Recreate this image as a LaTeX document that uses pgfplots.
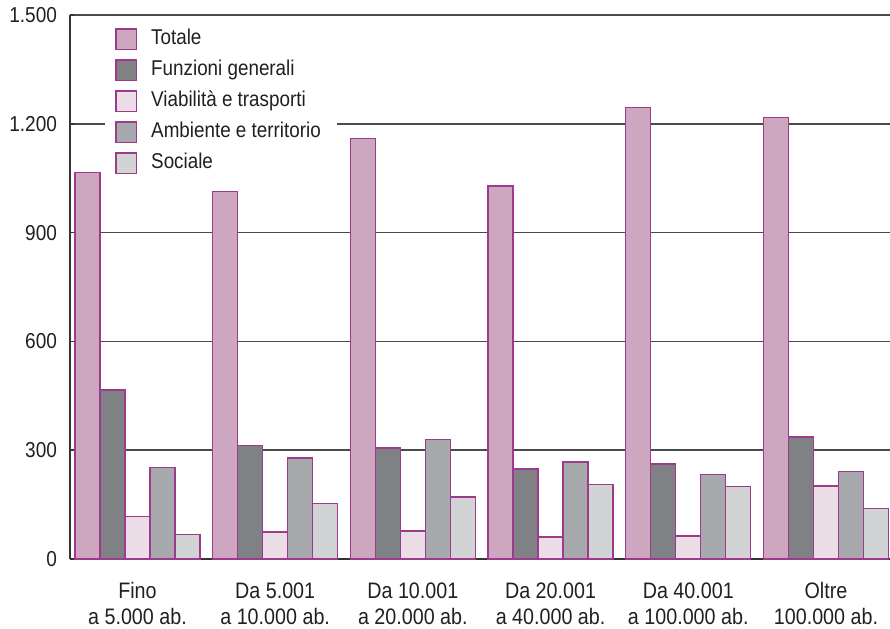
\documentclass[border=0pt]{standalone}
\usepackage{pgfplots}
\pgfplotsset{compat=1.18}
\usepackage{fontspec}
\setmainfont{Liberation Sans}[FakeStretch=0.88]
\definecolor{cTot}{HTML}{CDA6C0}
\definecolor{cFun}{HTML}{808184}
\definecolor{cVia}{HTML}{EBDDE6}
\definecolor{cAmb}{HTML}{A7A9AC}
\definecolor{cSoc}{HTML}{D1D3D4}
\definecolor{cEdge}{HTML}{9D3A8B}
\definecolor{cAxis}{HTML}{333333}
\definecolor{cGrid}{HTML}{4A4A4A}
\definecolor{cText}{HTML}{231F20}
\begin{document}
\begin{tikzpicture}
\useasboundingbox (-35pt,-34.5pt) rectangle (410pt,279.5pt);
\begin{axis}[
  at={(0,0)}, anchor=south west,
  scale only axis, width=410pt, height=272pt,
  ybar=0pt, bar width=12.5pt,
  xmin=-0.49, xmax=5.465, ymin=0, ymax=1500,
  axis x line*=bottom, axis y line*=left,
  axis line style={line width=1.4pt, color=cAxis},
  xtick={0,1,2,3,4,5},
  xticklabels={{Fino\\a 5.000 ab.},{Da 5.001\\a 10.000 ab.},{Da 10.001\\a 20.000 ab.},{Da 20.001\\a 40.000 ab.},{Da 40.001\\a 100.000 ab.},{Oltre\\100.000 ab.}},
  xtick style={draw=none},
  xticklabel style={align=center, font=\fontsize{11.2}{13}\selectfont, text=cText, yshift=-8.3pt},
  ytick={0,300,600,900,1200,1500},
  yticklabels={0,300,600,900,{1.200},{1.500}},
  yticklabel style={font=\fontsize{10.8}{13}\selectfont, text=cText, xshift=-3pt},
  tick align=inside, major tick length=2pt,
  ytick style={color=cAxis, line width=0.8pt},
  ymajorgrids, grid style={color=cGrid, line width=0.8pt},
  legend image code/.code={\draw[#1] (0pt,-5.2pt) rectangle (10.2pt,5.2pt);},
  legend cell align=left,
  legend style={at={(axis description cs:0.0427,0.9845)}, anchor=north west,
    draw=none, fill=white, inner xsep=5pt, inner ysep=0pt, row sep=0pt,
    font=\fontsize{10.7}{13}\selectfont, text=cText,
    nodes={text height=8pt, text depth=2.5pt, inner ysep=2.5pt, inner xsep=3pt},
    /tikz/every odd column/.append style={column sep=4pt}},
]
\addplot[fill=cTot, draw=cEdge, line width=0.7pt] coordinates {(0,1066) (1,1014) (2,1160) (3,1029) (4,1245) (5,1217)};
\addplot[fill=cFun, draw=cEdge, line width=0.7pt] coordinates {(0,466) (1,313) (2,306) (3,248) (4,262) (5,336)};
\addplot[fill=cVia, draw=cEdge, line width=0.7pt] coordinates {(0,118) (1,75) (2,77) (3,61) (4,63) (5,201)};
\addplot[fill=cAmb, draw=cEdge, line width=0.7pt] coordinates {(0,252) (1,279) (2,330) (3,267) (4,233) (5,241)};
\addplot[fill=cSoc, draw=cEdge, line width=0.7pt] coordinates {(0,67) (1,153) (2,171) (3,205) (4,200) (5,139)};
\legend{Totale, Funzioni generali, Viabilità e trasporti, Ambiente e territorio, Sociale}
\end{axis}
\end{tikzpicture}
\end{document}
